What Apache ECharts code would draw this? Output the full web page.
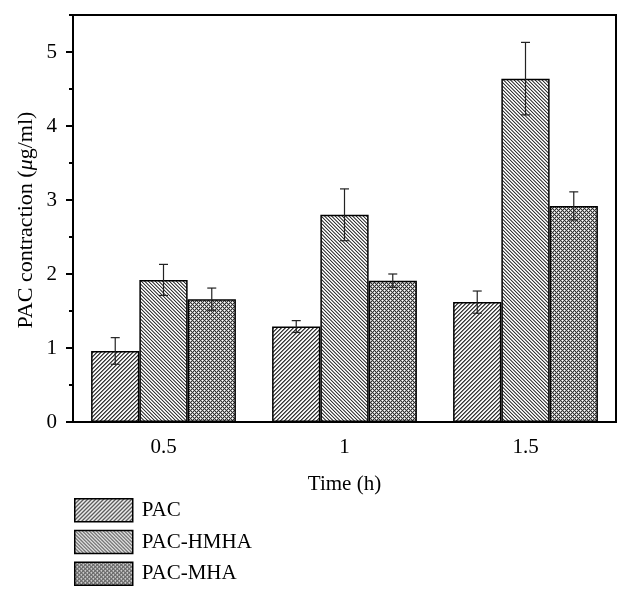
<!DOCTYPE html>
<html>
<head>
<meta charset="utf-8">
<script src="https://cdn.jsdelivr.net/npm/echarts@6/dist/echarts.min.js"></script>
<style>
html,body{margin:0;padding:0;background:#fff;}
#chart{width:631px;height:596px;}
</style>
</head>
<body>
<div id="chart"></div>
<script>
// ---- data ----
const categories = ['0.5', '1', '1.5'];
const seriesNames = ['PAC', 'PAC-HMHA', 'PAC-MHA'];
const pacValues = [0.96, 1.29, 1.62];
const pacErrors = [0.18, 0.08, 0.15];
const hmhaValues = [1.92, 2.80, 4.64];
const hmhaErrors = [0.21, 0.35, 0.49];
const mhaValues = [1.66, 1.91, 2.92];
const mhaErrors = [0.15, 0.09, 0.19];

const FONT = '"Liberation Serif", "Times New Roman", serif';

function makeTile(n, fn) {
  const c = document.createElement('canvas');
  c.width = n; c.height = n;
  const ctx = c.getContext('2d');
  const img = ctx.createImageData(n, n);
  for (let y = 0; y < n; y++) {
    for (let x = 0; x < n; x++) {
      const v = fn(x, y);
      const i = (y * n + x) * 4;
      img.data[i] = v; img.data[i + 1] = v; img.data[i + 2] = v; img.data[i + 3] = 255;
    }
  }
  ctx.putImageData(img, 0, 0);
  return c;
}
const mod = (a, n) => ((a % n) + n) % n;
const pacTile = makeTile(4, (x, y) => [55, 125, 255, 235][mod(x + y, 4)]);
const hmhaTile = makeTile(7, (x, y) => [50, 200, 255, 105, 105, 255, 225][mod(x - y, 7)]);
const mhaTile = makeTile(4, (x, y) => {
  if (mod(x + y, 4) === 0 || mod(x - y, 4) === 0) return 50;
  if ((x === 0 && y === 2) || (x === 2 && y === 0)) return 255;
  return 180;
});
const patterns = [pacTile, hmhaTile, mhaTile].map(t => ({ image: t, repeat: 'repeat' }));

const valueSets = [pacValues, hmhaValues, mhaValues];
const errorSets = [pacErrors, hmhaErrors, mhaErrors];

const barSeries = seriesNames.map((name, k) => ({
  name: name,
  type: 'bar',
  xAxisIndex: 0,
  yAxisIndex: 0,
  data: valueSets[k],
  barGap: '0%',
  barCategoryGap: '20%',
  itemStyle: { color: patterns[k], borderColor: '#000', borderWidth: 1.5 },
  emphasis: { disabled: true },
  animation: false
}));

const errSeries = seriesNames.map((name, k) => ({
  name: name + '-err',
  type: 'custom',
  xAxisIndex: 0,
  yAxisIndex: 0,
  z: 5,
  animation: false,
  data: valueSets[k].map((v, i) => [i, v - errorSets[k][i], v + errorSets[k][i]]),
  encode: { x: 0, y: [1, 2] },
  renderItem: function (params, api) {
    const idx = api.value(0);
    const lo = api.coord([idx, api.value(1)]);
    const hi = api.coord([idx, api.value(2)]);
    const band = api.size([1, 0])[0];
    const bw = band * 0.8 / 3;
    const cx = lo[0] + (k - 1) * bw;
    const cap = 4.5;
    const st = { stroke: '#222', lineWidth: 1.2 };
    return {
      type: 'group',
      children: [
        { type: 'line', shape: { x1: cx, y1: hi[1], x2: cx, y2: lo[1] }, style: st },
        { type: 'line', shape: { x1: cx - cap, y1: hi[1], x2: cx + cap, y2: hi[1] }, style: st },
        { type: 'line', shape: { x1: cx - cap, y1: lo[1], x2: cx + cap, y2: lo[1] }, style: st }
      ]
    };
  }
}));

const chart = echarts.init(document.getElementById('chart'), null, { renderer: 'canvas' });
chart.setOption({
  animation: false,
  backgroundColor: '#fff',
  grid: { left: 73, right: 15, top: 15, bottom: 174, show: true, borderColor: '#000', borderWidth: 2, backgroundColor: 'transparent' },
  legend: {
    data: seriesNames.map(n => ({ name: n, icon: 'rect' })),
    orient: 'vertical',
    left: 74, top: 498,
    itemWidth: 58, itemHeight: 23, itemGap: 7.3,
    padding: 0,
    selectedMode: false,
    itemStyle: { borderColor: '#000', borderWidth: 1.5 },
    textStyle: { fontFamily: FONT, fontSize: 21, color: '#000', lineHeight: 23, padding: [0, 0, 0, 4] }
  },
  xAxis: [
    {
      type: 'category', data: categories, position: 'bottom',
      axisLine: { lineStyle: { color: '#000', width: 2 } },
      axisTick: { alignWithLabel: true, length: 7, lineStyle: { color: '#000', width: 2 } },
      axisLabel: { fontFamily: FONT, fontSize: 21, color: '#000', margin: 15 },
      name: 'Time (h)', nameLocation: 'middle', nameGap: 52,
      nameTextStyle: { fontFamily: FONT, fontSize: 21, color: '#000' },
      splitLine: { show: false }
    },
    {
      type: 'category', data: categories, position: 'bottom',
      axisLine: { show: false },
      axisTick: { length: 4, lineStyle: { color: '#000', width: 2 } },
      axisLabel: { show: false },
      splitLine: { show: false }
    }
  ],
  yAxis: [
    {
      type: 'value', min: 0, max: 5.5, interval: 1, position: 'left',
      axisLine: { show: true, lineStyle: { color: '#000', width: 2 } },
      axisTick: { show: true, length: 7, lineStyle: { color: '#000', width: 2 } },
      axisLabel: { fontFamily: FONT, fontSize: 21, color: '#000', margin: 16, showMaxLabel: false,
        formatter: v => (Math.abs(v - Math.round(v)) < 1e-9 ? String(Math.round(v)) : '') },
      splitLine: { show: false }
    },
    {
      type: 'value', min: 0, max: 5.5, interval: 0.5, position: 'left',
      axisLine: { show: false },
      axisTick: { show: true, length: 4, lineStyle: { color: '#000', width: 2 } },
      axisLabel: { show: false },
      splitLine: { show: false }
    }
  ],
  graphic: [
    {
      type: 'text',
      x: 26, y: 220,
      rotation: Math.PI / 2,
      style: {
        text: '{a|PAC contraction (}{b|μ}{a|g/ml)}',
        align: 'center', verticalAlign: 'middle',
        fill: '#000',
        rich: {
          a: { fontFamily: FONT, fontSize: 22, fill: '#000', color: '#000' },
          b: { fontFamily: FONT, fontSize: 22, fontStyle: 'italic', fill: '#000', color: '#000' }
        }
      }
    }
  ],
  series: barSeries.concat(errSeries)
});
</script>
</body>
</html>
